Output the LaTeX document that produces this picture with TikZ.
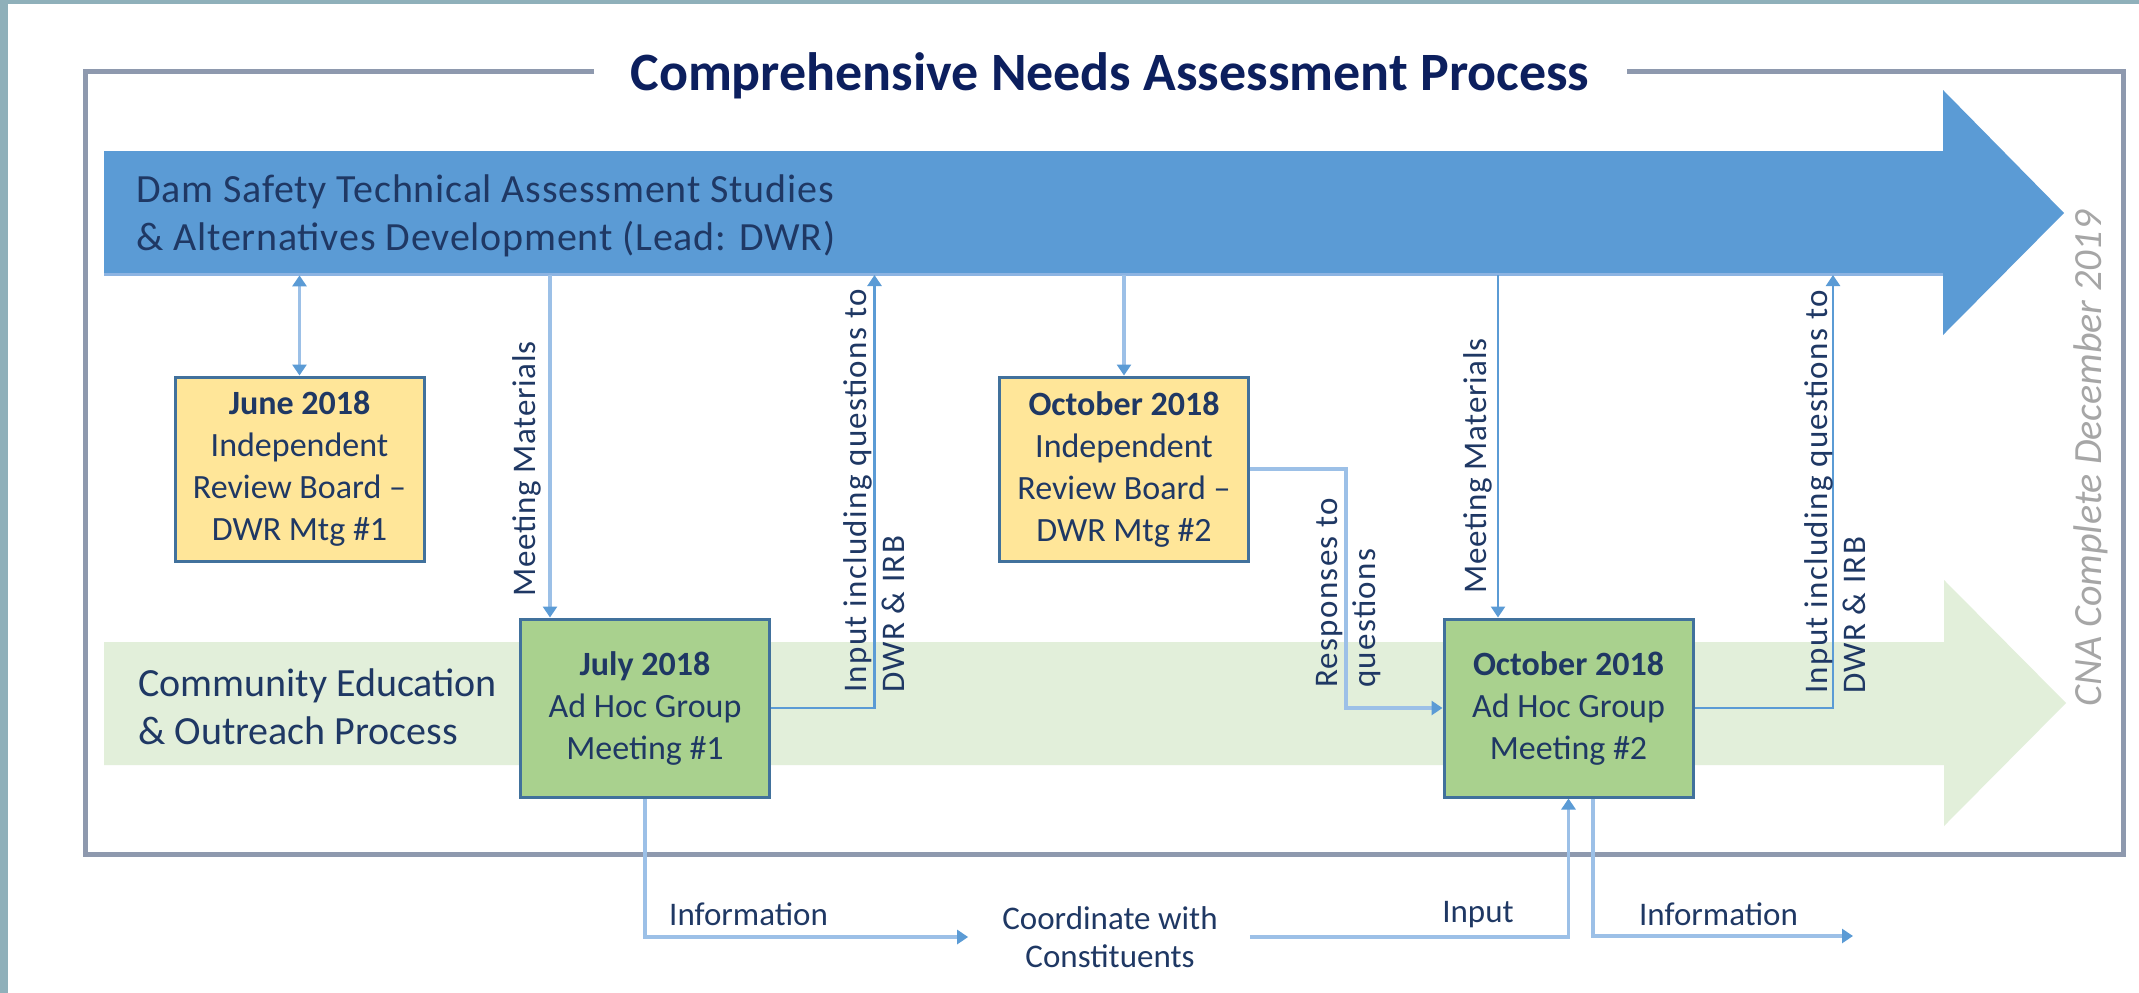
\documentclass[tikz,border=0pt]{standalone}
\usepackage{fontspec}
\setmainfont{Carlito}
\newfontfamily\spacedfont[LetterSpace=4]{Carlito}
\newfontfamily\lessspacedfont[LetterSpace=2]{Carlito}
\newfontfamily\barfont[LetterSpace=2]{Carlito}
\usetikzlibrary{arrows.meta}
\definecolor{edgeteal}{HTML}{8FB0BA}
\definecolor{frameg}{HTML}{8E99AE}
\definecolor{barblue}{HTML}{5B9BD5}
\definecolor{barlight}{HTML}{8DB4E2}
\definecolor{bargreen}{HTML}{E2EFDA}
\definecolor{boxyellow}{HTML}{FFE699}
\definecolor{boxgreen}{HTML}{A9D18E}
\definecolor{boxedge}{HTML}{41719C}
\definecolor{txtnavy}{HTML}{1F3864}
\definecolor{titlenavy}{HTML}{0C1F5E}
\definecolor{cnagray}{HTML}{A6A6A6}
\definecolor{linklight}{HTML}{9CC0E7}
\definecolor{linkdark}{HTML}{5B9BD5}
\tikzset{
  box/.style={draw=boxedge, line width=3pt, minimum width=249pt, align=center,
    text=txtnavy, font=\fontsize{34}{42}\selectfont, inner sep=0pt},
  irb/.style={box, fill=boxyellow, minimum height=184pt},
  adhoc/.style={box, fill=boxgreen, minimum height=178pt},
  tipA/.tip={Triangle[width=14pt,length=11pt,color=linkdark]},
  linkl/.style={draw=linklight, line width=3.5pt, -tipA},
  linkd/.style={draw=linkdark, line width=2.5pt, -tipA},
  lbl/.style={text=txtnavy, font=\fontsize{33}{38}\selectfont, inner sep=0pt},
  rlbl/.style={text=txtnavy, font=\spacedfont\fontsize{33}{38}\selectfont, inner sep=0pt, rotate=90, anchor=west, align=left},
  mmlbl/.style={rlbl, font=\lessspacedfont\fontsize{33}{38}\selectfont},
  bartext/.style={text=txtnavy, font=\barfont\fontsize{40}{48}\selectfont, inner sep=0pt, anchor=west, align=left}
}
\begin{document}
\begin{tikzpicture}[x=1pt,y=-1pt]
\useasboundingbox (0,0) rectangle (2139,993);
\fill[white] (0,0) rectangle (2139,993);
% outer strips
\fill[edgeteal] (0,0) rectangle (8,993);
\fill[edgeteal] (0,0) rectangle (2139,4);
% frame
\draw[frameg, line width=5pt] (594,71.5) -- (85,71.5) -- (85,854) -- (2123.5,854) -- (2123.5,71.5) -- (1627,71.5);
\node[text=titlenavy, font=\bfseries\fontsize{54}{60}\selectfont, inner sep=0pt] (title) at (1110,76) {Comprehensive Needs Assessment Process};
% bars
\fill[barblue] (104,151) -- (1943,151) -- (1943,90) -- (2064,213) -- (1943,335) -- (1943,275) -- (104,275) -- cycle;
\draw[barlight, line width=3pt] (104,274) -- (1943,274);
\node[minimum width=1839pt, minimum height=124pt, inner sep=0pt, anchor=north west] (blueshaft) at (104,151) {};
\fill[bargreen] (104,642) -- (1944,642) -- (1944,580) -- (2066,703) -- (1944,826) -- (1944,765) -- (104,765) -- cycle;
\node[bartext] (bluetext) at (136,216) {Dam Safety Technical Assessment Studies\\\& Alternatives Development (Lead: DWR)};
\node[bartext, font=\fontsize{40}{48}\selectfont] (greentext) at (138,706.5) {Community Education\\\& Outreach Process};
\node[text=cnagray, font=\itshape\fontsize{40}{48}\selectfont, rotate=90, inner sep=0pt] (cna) at (2091,458.5) {CNA Complete December 2019};
% boxes
\node[irb] (june) at (299.5,469) {\textbf{June 2018}\\Independent\\Review Board –\\DWR Mtg \#1};
\node[irb] (irb2) at (1124,469) {\textbf{October 2018}\\Independent\\Review Board –\\DWR Mtg \#2};
\node[adhoc] (july) at (645,708) {\textbf{July 2018}\\Ad Hoc Group\\Meeting \#1};
\node[adhoc] (adhoc2) at (1568.5,708) {\textbf{October 2018}\\Ad Hoc Group\\Meeting \#2};
\node[lbl, align=center] (coord) at (1110,937) {Coordinate with\\Constituents};
% coordinates
\coordinate (mm1top) at (550,275);
\coordinate (mm2top) at (1498,275);
\coordinate (in1top) at (874.5,275);
\coordinate (in2top) at (1833,275);
\coordinate (respbend) at (1346,708);
\coordinate (info2end) at (1853,936);
% connectors
\draw[linkl, tipA-tipA] (june.north) -- (june.north |- blueshaft.south);
\draw[linkl] (irb2.north |- blueshaft.south) -- (irb2.north);
\draw[linkl] (mm1top) -- (mm1top |- july.north);
\draw[linkd] (mm2top) -- (mm2top |- adhoc2.north);
\draw[linkd] (july.east) -| (in1top);
\draw[linkd] (adhoc2.east) -| (in2top);
\draw[linkl] (irb2.east) -| (respbend) -- (adhoc2.west);
\draw[linkl] (july.south) |- ([xshift=-34pt]coord.west);
\draw[linkl] ([xshift=32pt]coord.east) -| (adhoc2.south);
\draw[linkl] ([xshift=24.5pt]adhoc2.south) |- (info2end);
% redraw boxes on top
\node[irb] at (june) {\textbf{June 2018}\\Independent\\Review Board –\\DWR Mtg \#1};
\node[irb] at (irb2) {\textbf{October 2018}\\Independent\\Review Board –\\DWR Mtg \#2};
\node[adhoc] at (july) {\textbf{July 2018}\\Ad Hoc Group\\Meeting \#1};
\node[adhoc] at (adhoc2) {\textbf{October 2018}\\Ad Hoc Group\\Meeting \#2};
% labels
\node[mmlbl] (mm1lbl) at (527,597) {Meeting Materials};
\node[mmlbl] (mm2lbl) at (1478,594) {Meeting Materials};
\node[rlbl] (in1lbl) at (874.5,693) {Input including questions to\\DWR \& IRB};
\node[rlbl] (in2lbl) at (1835,694) {Input including questions to\\DWR \& IRB};
\node[rlbl] (resplbl) at (1348.5,688) {Responses to\\questions};
\node[lbl, anchor=west] (info1lbl) at (669,914) {Information};
\node[lbl] (inputlbl) at (1478,915) {Input};
\node[lbl] (info2lbl) at (1718.5,914) {Information};
\end{tikzpicture}
\end{document}
